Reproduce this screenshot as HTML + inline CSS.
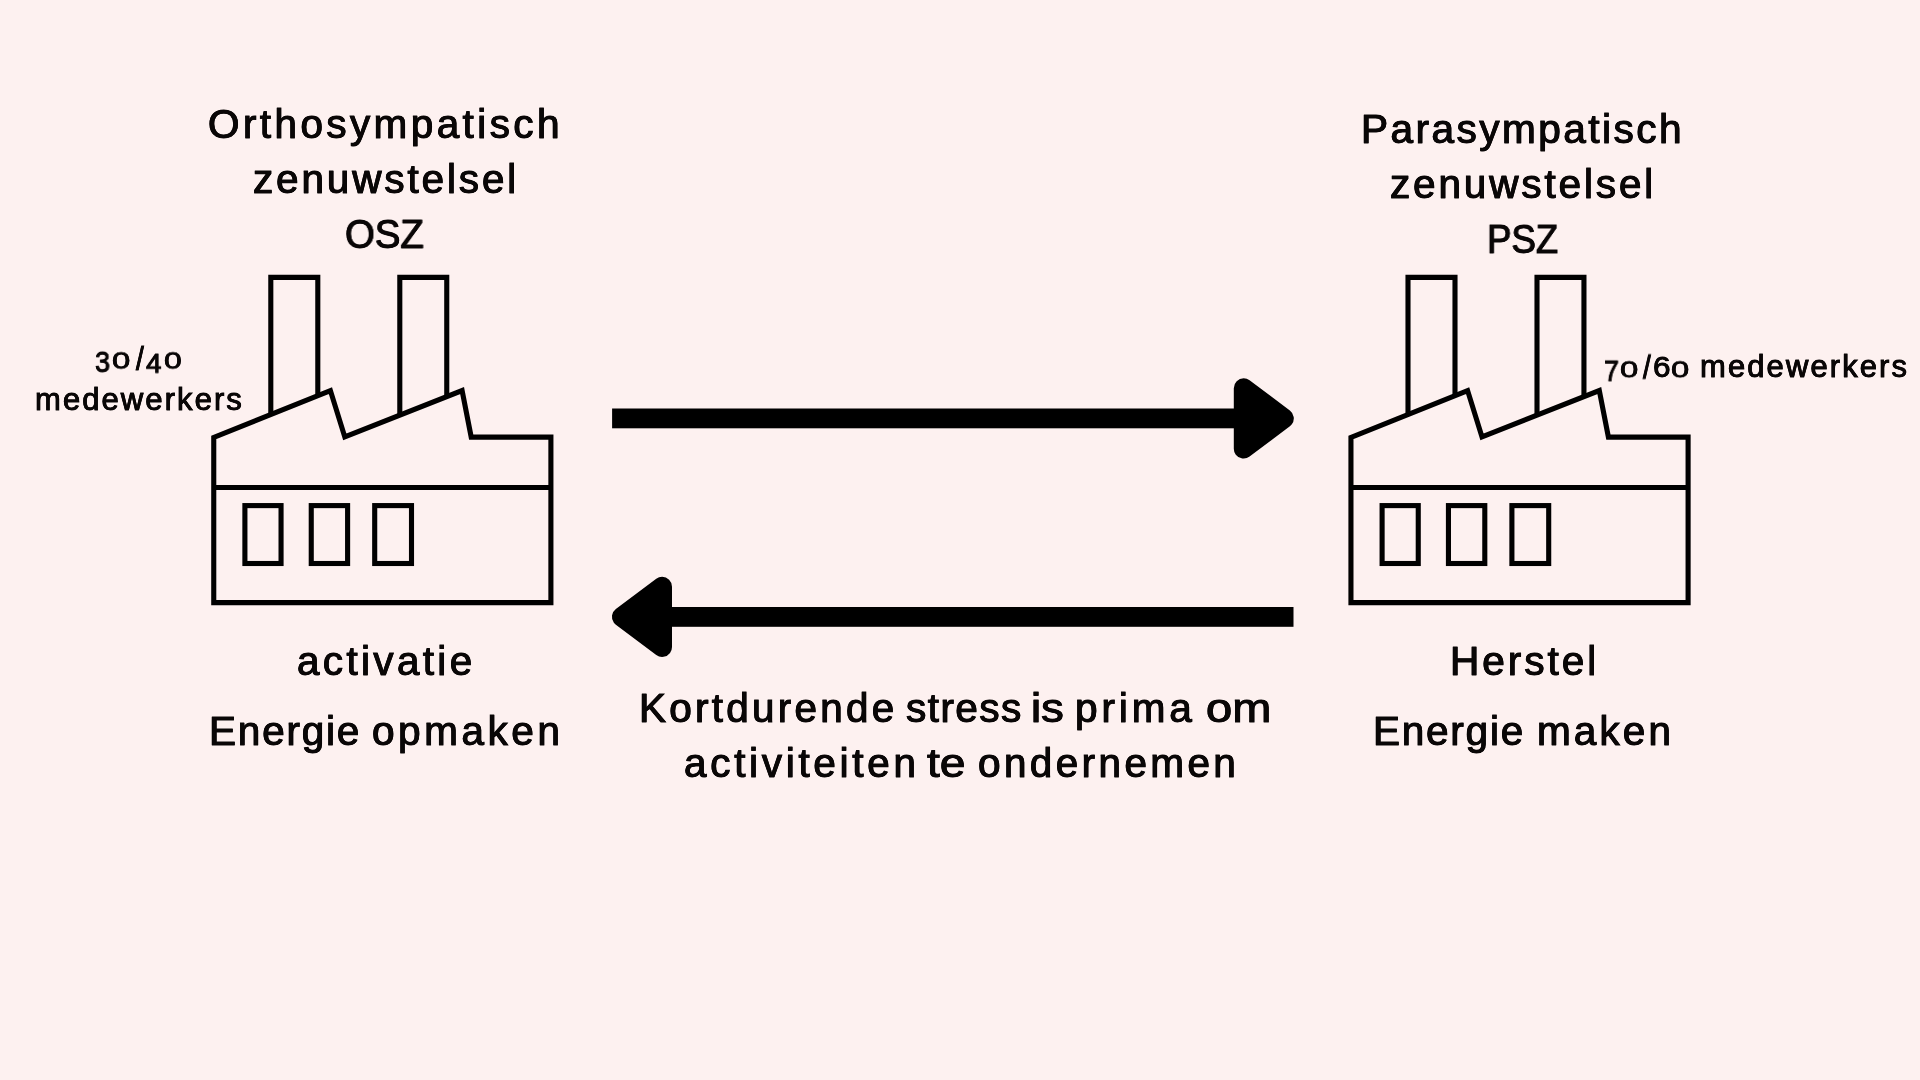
<!DOCTYPE html>
<html><head><meta charset="utf-8"><title>OSZ / PSZ</title>
<style>
html,body{margin:0;padding:0;}
body{width:1920px;height:1080px;overflow:hidden;background:#fdf1f0;position:relative;font-family:"Liberation Sans",sans-serif;}
.t{will-change:transform;position:absolute;white-space:nowrap;line-height:1;color:#0a0707;transform-origin:0 0;-webkit-text-stroke:0.9px #0a0707;font-family:"Liberation Sans",sans-serif;}
</style></head><body>
<svg width="1920" height="1080" viewBox="0 0 1920 1080" style="position:absolute;left:0;top:0">
<g transform="translate(0,0)" fill="none" stroke="#000" stroke-width="5.1" stroke-linejoin="miter">
<path d="M270.8 455 V277.4 H317.8 V397"/>
<path d="M399.8 455 V277.4 H446.75 V397"/>
<path fill="#fdf1f0" d="M213.75 602.6 V437.5 L330.4 390.6 L344.8 436.9 L462.1 390.6 L471.2 437.1 H550.9 V602.6 Z"/>
<path d="M213.75 487.5 H550.9"/>
<rect x="244.9" y="505.6" width="36.15" height="57.9"/>
<rect x="311.25" y="505.6" width="36.35" height="57.9"/>
<rect x="374.7" y="505.6" width="36.8" height="57.9"/>
</g>
<g transform="translate(1137.2,0)" fill="none" stroke="#000" stroke-width="5.1" stroke-linejoin="miter">
<path d="M270.8 455 V277.4 H317.8 V397"/>
<path d="M399.8 455 V277.4 H446.75 V397"/>
<path fill="#fdf1f0" d="M213.75 602.6 V437.5 L330.4 390.6 L344.8 436.9 L462.1 390.6 L471.2 437.1 H550.9 V602.6 Z"/>
<path d="M213.75 487.5 H550.9"/>
<rect x="244.9" y="505.6" width="36.15" height="57.9"/>
<rect x="311.25" y="505.6" width="36.35" height="57.9"/>
<rect x="374.7" y="505.6" width="36.8" height="57.9"/>
</g>
<g fill="#000" stroke="#000" stroke-linejoin="round">
<rect x="612.1" y="408.5" width="640" height="19.8" stroke="none"/>
<path d="M1243.65 388.15 L1283.95 418.4 L1243.65 448.75 Z" stroke-width="19.7"/>
<rect x="655" y="607.0" width="638.5" height="19.8" stroke="none"/>
<path d="M662.15 586.65 L621.75 616.9 L662.15 647.05 Z" stroke-width="19.7"/>
</g>
</svg>
<div class="t" style="left:208.40px;top:104.00px;font-size:40.5px;-webkit-text-stroke-width:0.9px;text-shadow:0.4px 0 0 #0a0707,-0.4px 0 0 #0a0707;letter-spacing:3.404px;transform:scaleX(1.0000)">Orthosympatisch</div>
<div class="t" style="left:253.45px;top:159.00px;font-size:40.5px;-webkit-text-stroke-width:0.9px;text-shadow:0.4px 0 0 #0a0707,-0.4px 0 0 #0a0707;letter-spacing:2.855px;transform:scaleX(1.0000)">zenuwstelsel</div>
<div class="t" style="left:344.98px;top:214.00px;font-size:40.5px;-webkit-text-stroke-width:0.9px;text-shadow:0.4px 0 0 #0a0707,-0.4px 0 0 #0a0707;letter-spacing:0.000px;transform:scaleX(0.9463)">OSZ</div>
<div class="t" style="left:1361.35px;top:109.00px;font-size:40.5px;-webkit-text-stroke-width:0.9px;text-shadow:0.4px 0 0 #0a0707,-0.4px 0 0 #0a0707;letter-spacing:2.496px;transform:scaleX(1.0000)">Parasympatisch</div>
<div class="t" style="left:1390.45px;top:164.00px;font-size:40.5px;-webkit-text-stroke-width:0.9px;text-shadow:0.4px 0 0 #0a0707,-0.4px 0 0 #0a0707;letter-spacing:2.855px;transform:scaleX(1.0000)">zenuwstelsel</div>
<div class="t" style="left:1486.61px;top:219.00px;font-size:40.5px;-webkit-text-stroke-width:0.9px;text-shadow:0.4px 0 0 #0a0707,-0.4px 0 0 #0a0707;letter-spacing:0.000px;transform:scaleX(0.9037)">PSZ</div>
<div class="t" style="left:35.20px;top:384.00px;font-size:31.0px;-webkit-text-stroke-width:0.8px;text-shadow:0.3px 0 0 #0a0707,-0.3px 0 0 #0a0707;letter-spacing:2.080px;transform:scaleX(1.0000)">medewerkers</div>
<div class="t" style="left:1699.75px;top:351.00px;font-size:31.0px;-webkit-text-stroke-width:0.8px;text-shadow:0.3px 0 0 #0a0707,-0.3px 0 0 #0a0707;letter-spacing:2.090px;transform:scaleX(1.0000)">medewerkers</div>
<div class="t" style="left:296.85px;top:641.00px;font-size:40.5px;-webkit-text-stroke-width:0.9px;text-shadow:0.4px 0 0 #0a0707,-0.4px 0 0 #0a0707;letter-spacing:3.331px;transform:scaleX(1.0000)">activatie</div>
<div class="t" style="left:209.25px;top:711.00px;font-size:40.5px;-webkit-text-stroke-width:0.9px;text-shadow:0.4px 0 0 #0a0707,-0.4px 0 0 #0a0707;letter-spacing:1.800px;transform:scaleX(1.0000)">Energie</div>
<div class="t" style="left:371.95px;top:711.00px;font-size:40.5px;-webkit-text-stroke-width:0.9px;text-shadow:0.4px 0 0 #0a0707,-0.4px 0 0 #0a0707;letter-spacing:3.558px;transform:scaleX(1.0000)">opmaken</div>
<div class="t" style="left:1449.65px;top:641.00px;font-size:40.5px;-webkit-text-stroke-width:0.9px;text-shadow:0.4px 0 0 #0a0707,-0.4px 0 0 #0a0707;letter-spacing:3.008px;transform:scaleX(1.0000)">Herstel</div>
<div class="t" style="left:1373.25px;top:711.00px;font-size:40.5px;-webkit-text-stroke-width:0.9px;text-shadow:0.4px 0 0 #0a0707,-0.4px 0 0 #0a0707;letter-spacing:1.767px;transform:scaleX(1.0000)">Energie</div>
<div class="t" style="left:1536.65px;top:711.00px;font-size:40.5px;-webkit-text-stroke-width:0.9px;text-shadow:0.4px 0 0 #0a0707,-0.4px 0 0 #0a0707;letter-spacing:3.087px;transform:scaleX(1.0000)">maken</div>
<div class="t" style="left:639.25px;top:688.00px;font-size:40.5px;-webkit-text-stroke-width:0.9px;text-shadow:0.4px 0 0 #0a0707,-0.4px 0 0 #0a0707;letter-spacing:3.225px;transform:scaleX(1.0000)">Kortdurende</div>
<div class="t" style="left:905.95px;top:688.00px;font-size:40.5px;-webkit-text-stroke-width:0.9px;text-shadow:0.4px 0 0 #0a0707,-0.4px 0 0 #0a0707;letter-spacing:1.450px;transform:scaleX(1.0000)">stress</div>
<div class="t" style="left:1031.37px;top:688.00px;font-size:40.5px;-webkit-text-stroke-width:0.9px;text-shadow:0.4px 0 0 #0a0707,-0.4px 0 0 #0a0707;letter-spacing:0.000px;transform:scaleX(1.1231)">is</div>
<div class="t" style="left:1074.65px;top:688.00px;font-size:40.5px;-webkit-text-stroke-width:0.9px;text-shadow:0.4px 0 0 #0a0707,-0.4px 0 0 #0a0707;letter-spacing:3.900px;transform:scaleX(1.0000)">prima</div>
<div class="t" style="left:1206.05px;top:688.00px;font-size:40.5px;-webkit-text-stroke-width:0.9px;text-shadow:0.4px 0 0 #0a0707,-0.4px 0 0 #0a0707;letter-spacing:0.000px;transform:scaleX(1.1602)">om</div>
<div class="t" style="left:683.75px;top:743.00px;font-size:40.5px;-webkit-text-stroke-width:0.9px;text-shadow:0.4px 0 0 #0a0707,-0.4px 0 0 #0a0707;letter-spacing:3.691px;transform:scaleX(1.0000)">activiteiten</div>
<div class="t" style="left:927.01px;top:743.00px;font-size:40.5px;-webkit-text-stroke-width:0.9px;text-shadow:0.4px 0 0 #0a0707,-0.4px 0 0 #0a0707;letter-spacing:0.000px;transform:scaleX(1.1411)">te</div>
<div class="t" style="left:977.65px;top:743.00px;font-size:40.5px;-webkit-text-stroke-width:0.9px;text-shadow:0.4px 0 0 #0a0707,-0.4px 0 0 #0a0707;letter-spacing:3.378px;transform:scaleX(1.0000)">ondernemen</div>
<div class="t" style="left:94.98px;top:348.15px;font-size:28px;-webkit-text-stroke-width:0.8px;text-shadow:0.3px 0 0 #0a0707,-0.3px 0 0 #0a0707;transform:scale(0.9643,1.0337)">3</div>
<div class="t" style="left:112.42px;top:349.16px;font-size:28px;-webkit-text-stroke-width:0.8px;text-shadow:0.3px 0 0 #0a0707,-0.3px 0 0 #0a0707;transform:scale(1.1719,0.8482)">0</div>
<div class="t" style="left:135.50px;top:342.30px;font-size:28px;-webkit-text-stroke-width:0.8px;text-shadow:0.3px 0 0 #0a0707,-0.3px 0 0 #0a0707;transform:scale(1.0000,1.2000)">/</div>
<div class="t" style="left:146.45px;top:349.60px;font-size:28px;-webkit-text-stroke-width:0.8px;text-shadow:0.3px 0 0 #0a0707,-0.3px 0 0 #0a0707;transform:scale(1.0000,0.9850)">4</div>
<div class="t" style="left:164.14px;top:349.16px;font-size:28px;-webkit-text-stroke-width:0.8px;text-shadow:0.3px 0 0 #0a0707,-0.3px 0 0 #0a0707;transform:scale(1.1404,0.8482)">0</div>
<div class="t" style="left:1603.64px;top:356.47px;font-size:28px;-webkit-text-stroke-width:0.8px;text-shadow:0.3px 0 0 #0a0707,-0.3px 0 0 #0a0707;transform:scale(0.9556,1.0850)">7</div>
<div class="t" style="left:1619.92px;top:357.88px;font-size:28px;-webkit-text-stroke-width:0.8px;text-shadow:0.3px 0 0 #0a0707,-0.3px 0 0 #0a0707;transform:scale(1.1719,0.8386)">0</div>
<div class="t" style="left:1642.60px;top:351.04px;font-size:28px;-webkit-text-stroke-width:0.8px;text-shadow:0.3px 0 0 #0a0707,-0.3px 0 0 #0a0707;transform:scale(0.9943,1.2023)">/</div>
<div class="t" style="left:1652.63px;top:353.12px;font-size:28px;-webkit-text-stroke-width:0.8px;text-shadow:0.3px 0 0 #0a0707,-0.3px 0 0 #0a0707;transform:scale(1.1236,1.0434)">6</div>
<div class="t" style="left:1671.22px;top:357.88px;font-size:28px;-webkit-text-stroke-width:0.8px;text-shadow:0.3px 0 0 #0a0707,-0.3px 0 0 #0a0707;transform:scale(1.1684,0.8386)">0</div>
</body></html>
